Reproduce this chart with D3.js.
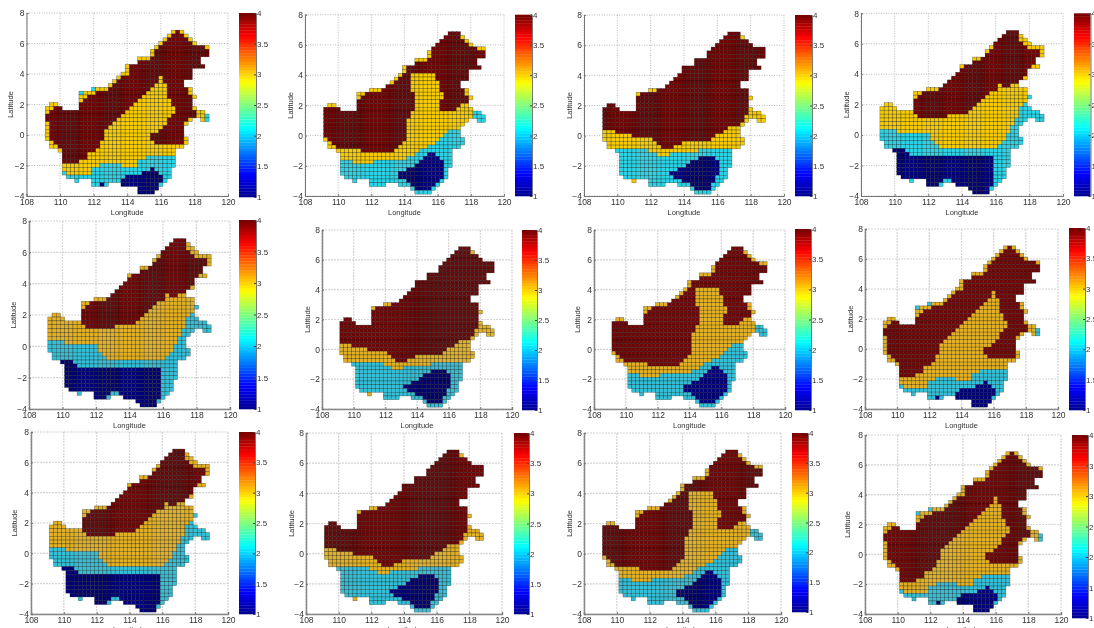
<!DOCTYPE html>
<html>
<head>
<meta charset="utf-8">
<script src="https://d3js.org/d3.v7.min.js"></script>
<style>
  html, body { margin: 0; padding: 0; background: #fff; overflow: hidden; }
  svg { display: block; }
  text { font-family: "Liberation Sans", Arial, sans-serif; fill: #333; }
</style>
</head>
<body>
<script>
  var width = 1094;
  var height = 628;

  var lonTicks = [108, 110, 112, 114, 116, 118, 120];
  var latTicks = [-4, -2, 0, 2, 4, 6, 8];
  var barTicks = [1, 1.5, 2, 2.5, 3, 3.5, 4];

  // jet colormap, value 1 to 4
  var jetValues = [1, 1.375, 2.125, 2.875, 3.625, 4];
  var jetColors = ["#00008f", "#0000ff", "#00ffff", "#ffff00", "#ff0000", "#740000"];

  // colours of the four classes as the picture shows them, sharp top row and washed lower rows
  var classValues = [1, 2, 3, 4];
  var sharpColors = ["#00007c", "#2ad4e6", "#f6cb00", "#6e0404"];
  var washedColors = ["#00007a", "#35bfd6", "#e2b024", "#6c0808"];

  // land cells per row, north to south: [first column, last column] pairs
  var landRows = [
    [30,32],[29,33],[28,34],[27,35],[26,38],[25,38],[25,38],[22,36],[22,36],[19,37],
    [19,34],[18,34],[17,34],[16,32],[15,32],[11,34],[8,34],[8,35],[8,34],[1,2,8,34],
    [0,3,8,35],[0,37],[0,38],[0,34,37,38],[0,33],[0,32],[0,32],[0,32],[0,33],[1,33],
    [1,32],[3,30],[4,30],[4,30],[4,30],[4,30],[4,29],[4,29],[5,29],[7,7,11,28],
    [11,14,18,27],[21,26],[22,25]
  ];

  // class per row: value, column it starts at, value, column it starts at ...
  var mapA = [
    [3,30,4,31,3,32],[3,29,4,30,3,33],[3,28,4,29,3,34],[3,27,4,28,3,35],[3,26,4,27,3,38],
    [3,25,4,26],[3,25,4,26],[3,22,4,25],[4,22],[3,19,4,20],
    [3,19,4,20],[3,18,4,20],[3,17,4,18,3,27,4,28],[3,16,4,17,3,27,4,28],[3,15,4,16,3,26,4,29],
    [2,11,3,12,4,15,3,25,4,29,3,34],[2,8,3,9,4,12,3,24,4,29,3,34],[3,8,4,10,3,23,4,29,3,35],[3,8,4,9,3,22,4,30],[3,1,4,8,3,21,4,30],
    [3,0,4,2,3,20,4,31,3,35],[3,0,4,1,3,19,4,31,3,36],[4,0,3,18,4,30,3,36,2,38],[4,0,3,17,4,29,3,34,2,38],[3,0,4,1,3,16,4,29,3,33],
    [3,0,4,1,3,15,4,28],[3,0,4,1,3,14,4,27],[3,0,4,1,3,14,4,25],[3,0,4,1,3,14,4,25,3,33],[3,1,4,2,3,13,4,26,3,33],
    [3,1,4,3,3,13],[3,3,4,4,3,12],[4,4,3,10],[4,4,3,10,2,24],[4,4,3,8,2,22],
    [3,4,2,13,3,18,2,22],[3,4,2,11,1,25,2,26],[2,4,3,5,2,11,1,23,2,27],[2,5,1,19,2,28],[2,7,1,18,2,28],
    [2,11,1,13,2,14,1,18,2,27],[0,21,1,22],[1,22]
  ];
  var mapB = [
    [4,30],[4,29,3,33],[4,28,3,34],[4,27,3,35],[4,26,3,37],
    [3,25,4,26],[3,25,4,26],[3,22,4,25],[4,22],[3,19,4,20],
    [3,19,4,20],[3,18,4,19,3,21,4,27],[3,17,4,18,3,21,4,27],[3,16,4,17,3,21,4,28],[4,15,3,21,4,28],
    [3,11,4,14,3,21,4,28,3,34],[3,8,4,10,3,22,4,29,3,34],[3,8,4,9,3,22,4,29,3,35],[4,8,3,22,4,28],[3,1,4,8,3,22,4,28,3,33],
    [4,0,3,22,4,28,3,32],[4,0,3,21,2,36],[4,0,3,21,2,36],[4,0,3,20,2,37],[4,0,3,20],
    [4,0,3,20],[4,0,3,20,2,30],[4,0,3,20,2,29],[3,0,4,1,3,20,2,28],[3,1,4,2,3,19,2,27],
    [3,1,4,3,3,18,2,25],[3,3,4,9,3,17,2,23],[3,4,2,22,1,25,2,27],[3,4,2,20,1,24,2,28],[2,4,3,7,2,12,1,23,2,29],
    [2,4,1,22,2,29],[2,4,1,20,2,29],[2,4,1,18,2,29],[2,5,1,18,2,29],[2,7,1,20,2,28],
    [2,11,1,21,2,27],[2,21,1,22,2,26],[2,22]
  ];
  var mapC = [
    [4,30],[4,29,3,33],[4,28],[4,27],[4,26],
    [4,25],[4,25],[4,22],[4,22],[4,19],
    [4,19],[4,18],[4,17],[4,16],[4,15],
    [3,11,4,13],[3,8,4,9],[4,8,3,35],[4,8],[4,0],
    [4,0,3,35],[4,0,3,35],[4,0,3,34],[4,0,3,34],[4,0,3,33],
    [4,0,3,30],[3,0,4,3,3,29],[3,0,4,7,3,27],[3,0,4,12,3,26],[3,1,4,13,3,19],
    [3,1,4,14,3,17],[2,3,3,11,2,23],[2,4,3,13,2,16],[2,4,1,23,2,27],[2,4,1,21,2,28],
    [2,4,1,20,2,28],[2,4,1,18,2,28],[2,4,1,16,2,28],[2,5,1,17,2,27],[3,7,2,11,1,19,2,27],
    [2,11,1,21,2,26],[2,21,1,22,2,26],[2,22]
  ];
  var mapD = [
    [4,30],[4,29,3,33],[4,28,3,33],[4,27,3,34],[3,26,4,27,3,35],
    [3,25,4,26,3,38],[4,25,3,38],[3,22,4,24],[4,22],[3,19,4,20,3,36],
    [4,19],[4,18],[4,17,3,34],[4,16],[4,15,3,28,4,29,3,31],
    [3,11,4,14,3,28],[3,8,4,10,3,26],[3,8,4,9,3,25,2,35],[4,8,3,24],[3,1,4,8,3,23,2,34],
    [3,0,4,8,3,22,2,33],[3,0,4,8,3,21,2,33],[3,0,4,9,3,16,2,33],[3,0,2,32],[3,0,2,32],
    [3,0,2,31],[2,0,3,4,2,31],[2,0,3,12,2,30],[2,0,3,12,2,30],[2,1,3,13,2,29],
    [2,1,3,14,2,28],[1,3,2,6],[1,4,2,7],[1,4,2,27],[1,4,2,27],
    [1,4,2,27],[1,4,2,27],[1,4,2,27],[1,5,2,27],[2,7,1,11,2,15,1,17,2,27],
    [1,11,2,14,1,18,2,27],[1,21,2,26],[1,22]
  ];

  var panelMaps = [mapA, mapB, mapC, mapD, mapD, mapC, mapB, mapA, mapD, mapC, mapB, mapA];

  // axes box, colorbar, label positions of each panel in the picture
  var panelBoxes = [
    {l:26.5, r:228, t:13, b:196, cl:239, cr:256, ct:13, cb:197, ly:214.5, yl:10, row:1},
    {l:305, r:504, t:14.7, b:196, cl:515, cr:532, ct:14.7, cb:196, ly:214.5, yl:290, row:1},
    {l:584, r:784, t:15, b:196, cl:795, cr:812, ct:15, cb:196, ly:214.5, yl:569, row:1},
    {l:861, r:1063, t:13.3, b:196, cl:1074, cr:1090.5, ct:13.3, cb:196, ly:214.5, yl:846, row:1},
    {l:29, r:230, t:221, b:409, cl:239, cr:256, ct:220, cb:409, ly:428, yl:13, row:2},
    {l:322, r:512, t:230, b:409, cl:522, cr:537, ct:230, cb:410, ly:428, yl:307, row:2},
    {l:594, r:785, t:230, b:409, cl:795, cr:811, ct:229, cb:410, ly:428, yl:577, row:2},
    {l:865, r:1058, t:229, b:409, cl:1069, cr:1085, ct:228, cb:410, ly:428, yl:850, row:2},
    {l:31, r:228, t:432, b:614, cl:239, cr:255, ct:432, cb:614, ly:632, yl:14, row:3},
    {l:306, r:502, t:433, b:614, cl:514, cr:529, ct:433, cb:614, ly:632, yl:291, row:3},
    {l:584, r:781, t:433, b:614, cl:792, cr:808, ct:433, cb:612, ly:632, yl:569, row:3},
    {l:865, r:1061, t:435, b:614, cl:1072, cr:1088, ct:435, cb:618, ly:632, yl:847, row:3}
  ];

  var cellSize = 0.25;
  var firstLon = 109.125;
  var firstLat = 6.875;

  var jet = d3.scaleLinear().domain(jetValues).range(jetColors);
  var sharp = d3.scaleOrdinal().domain(classValues).range(sharpColors);
  var washed = d3.scaleOrdinal().domain(classValues).range(washedColors);

  var svg = d3.select("body").append("svg")
    .attr("width", width)
    .attr("height", height);

  // turn one map into a list of cells, clipped to the land
  function buildCells(map){
    var cells = [];
    landRows.forEach(function(spans, r){
      var runs = map[r];
      for(var s = 0; s < spans.length; s += 2){
        for(var c = spans[s]; c <= spans[s + 1]; c++){
          var v = 0;
          for(var k = 0; k < runs.length; k += 2){
            if(runs[k + 1] <= c) v = runs[k];
          }
          if(v > 0) cells.push({lon: firstLon + c * cellSize, lat: firstLat - r * cellSize, v: v});
        }
      }
    });
    return cells;
  }

  function drawPanel(map, box){
    var x = d3.scaleLinear().domain([108, 120]).range([box.l, box.r]);
    var y = d3.scaleLinear().domain([-4, 8]).range([box.b, box.t]);
    var top = box.row == 1;
    var classColor = top ? sharp : washed;
    var g = svg.append("g").style("filter", top ? "blur(0.45px)" : "blur(0.6px)");

    // grid
    var gridColor = top ? "#aaa" : "#d4d4d4";
    var gridDash = top ? "1,1.5" : "2,1";
    var gridWidth = top ? 0.8 : 1.2;
    g.selectAll("line.gx").data(lonTicks).enter().append("line")
      .attr("x1", function(d){ return x(d); })
      .attr("x2", function(d){ return x(d); })
      .attr("y1", box.t).attr("y2", box.b)
      .attr("stroke", gridColor).attr("stroke-dasharray", gridDash).attr("stroke-width", gridWidth);
    g.selectAll("line.gy").data(latTicks).enter().append("line")
      .attr("y1", function(d){ return y(d); })
      .attr("y2", function(d){ return y(d); })
      .attr("x1", box.l).attr("x2", box.r)
      .attr("stroke", gridColor).attr("stroke-dasharray", gridDash).attr("stroke-width", gridWidth);

    // cells
    g.selectAll("rect.cell").data(buildCells(map)).enter().append("rect")
      .attr("x", function(d){ return x(d.lon); })
      .attr("y", function(d){ return y(d.lat); })
      .attr("width", x(firstLon + cellSize) - x(firstLon))
      .attr("height", y(firstLat - cellSize) - y(firstLat))
      .attr("fill", function(d){ return classColor(d.v); })
      .attr("stroke", "#111")
      .attr("stroke-opacity", 0.6)
      .attr("stroke-width", 0.45);

    // axes
    var xAxis = g.append("g").attr("transform", "translate(0," + box.b + ")")
      .call(d3.axisBottom(x).tickValues(lonTicks).tickSize(-2).tickPadding(2.5));
    var yAxis = g.append("g").attr("transform", "translate(" + box.l + ",0)")
      .call(d3.axisLeft(y).tickValues(latTicks).tickSize(-2).tickPadding(2));
    [xAxis, yAxis].forEach(function(a){
      a.selectAll(".domain").attr("stroke", top ? "#666" : "#888").attr("stroke-width", top ? 0.9 : 1.5);
      a.selectAll("line").attr("stroke", "#777");
      a.selectAll("text").attr("font-size", 8.5).attr("font-family", null);
    });

    g.append("text")
      .attr("x", (box.l + box.r) / 2)
      .attr("y", box.ly)
      .attr("text-anchor", "middle")
      .attr("font-size", 7.5)
      .text("Longitude");
    g.append("text")
      .attr("transform", "translate(" + (box.yl + 3) + "," + ((box.t + box.b) / 2) + ") rotate(-90)")
      .attr("text-anchor", "middle")
      .attr("font-size", 7.5)
      .text("Latitude");

    // colorbar
    var c = d3.scaleLinear().domain([1, 4]).range([box.cb, box.ct]);
    var steps = d3.range(64);
    var stepH = (box.cb - box.ct) / 64;
    g.selectAll("rect.bar").data(steps).enter().append("rect")
      .attr("x", box.cl)
      .attr("width", box.cr - box.cl)
      .attr("y", function(d){ return c(1 + (d + 1) * 3 / 64); })
      .attr("height", stepH + 0.3)
      .attr("fill", function(d){ return jet(1 + (d + 0.5) * 3 / 64); });
    g.append("g").attr("transform", "translate(" + box.cr + ",0)")
      .call(d3.axisRight(c).tickValues(barTicks).tickFormat(d3.format("")).tickSize(-2).tickPadding(1))
      .call(function(a){
        a.selectAll(".domain").attr("stroke", "#777");
        a.selectAll("line").attr("stroke", "#444");
        a.selectAll("text").attr("font-size", 8).attr("font-family", null);
      });
  }

  panelMaps.forEach(function(map, i){
    drawPanel(map, panelBoxes[i]);
  });
</script>
</body>
</html>
